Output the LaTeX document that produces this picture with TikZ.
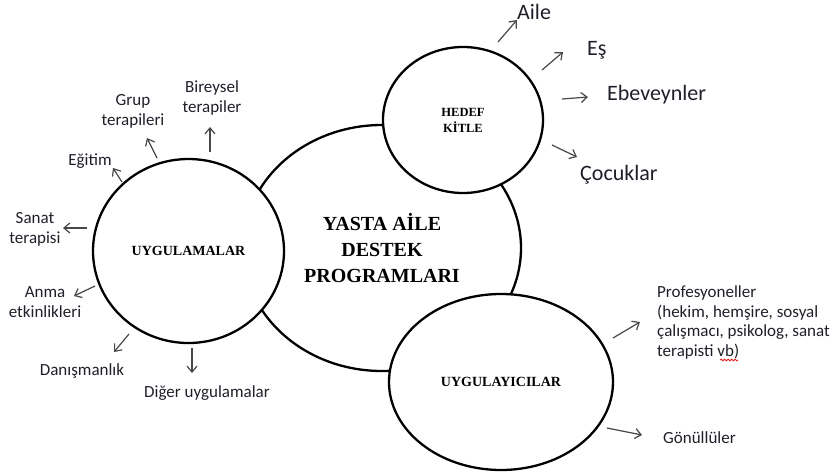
\documentclass[tikz,border=0pt]{standalone}
\usepackage{fontspec}
\setmainfont{Carlito}
\newfontfamily\baslikfont{Liberation Serif}
\usetikzlibrary{shapes.geometric,arrows.meta,decorations.pathmorphing}

\newlength{\du}
\setlength{\du}{1\unitlength}

\definecolor{okrengi}{rgb}{0.280000, 0.280000, 0.280000}
\definecolor{yazirengi}{rgb}{0.120000, 0.120000, 0.160000}
\definecolor{imlarengi}{rgb}{0.900000, 0.100000, 0.100000}

\tikzset{
  halka/.style={ellipse, draw=black, line width=2.3\du, fill=white, inner sep=0pt, align=center},
  ok/.style={-{Straight Barb[length=6pt, width=10pt]}, draw=okrengi, line width=1.2\du},
  etiket/.style={inner sep=0pt, anchor=base, align=center, text=yazirengi,
    font=\fontsize{17}{19.5}\selectfont},
  buyuketiket/.style={inner sep=0pt, anchor=base west, text=yazirengi,
    font=\fontsize{22}{25}\selectfont},
  baslik/.style={font=\baslikfont\bfseries\fontsize{#1}{#1}\selectfont},
}

\begin{document}
\begin{tikzpicture}
\pgftransformxscale{1.000000}
\pgftransformyscale{-1.000000}
\useasboundingbox (0\du,0\du) rectangle (833\du,474\du);

% ana halka ve ustundeki uc halka
\node[halka, minimum width=278\du, minimum height=246\du,
  baslik=20, execute at begin node=\setlength{\baselineskip}{26\du}]
  (merkez) at (382\du,248\du) {YASTA AİLE\\DESTEK\\PROGRAMLARI};
\node[halka, minimum width=191\du, minimum height=184\du, baslik=14]
  (uyg) at (188.5\du,251\du) {UYGULAMALAR};
\node[halka, minimum width=160\du, minimum height=146\du, baslik=12.5,
  execute at begin node=\setlength{\baselineskip}{16\du}]
  (hedef) at (463\du,120\du) {HEDEF\\KİTLE};
\node[halka, minimum width=224\du, minimum height=176\du, baslik=14]
  (uygci) at (501\du,382\du) {UYGULAYICILAR};

% hedef kitle
\node[buyuketiket] (aile) at (517\du,19\du) {Aile};
\node[buyuketiket] (es) at (587\du,55\du) {Eş};
\node[buyuketiket] (ebeveyn) at (607\du,100\du) {Ebeveynler};
\node[buyuketiket] (cocuk) at (580\du,180\du) {Çocuklar};
\coordinate (aileA) at (498\du,42\du);
\coordinate (aileB) at (517\du,20\du);
\coordinate (esA) at (542\du,70\du);
\coordinate (esB) at (563\du,52\du);
\coordinate (ebeveynA) at (562\du,99\du);
\coordinate (ebeveynB) at (588\du,97\du);
\coordinate (cocukA) at (552\du,145\du);
\coordinate (cocukB) at (577\du,157\du);
\draw[ok] (aileA) -- (aileB);
\draw[ok] (esA) -- (esB);
\draw[ok] (ebeveynA) -- (ebeveynB);
\draw[ok] (cocukA) -- (cocukB);

% uygulamalar (base = son satir)
\node[etiket] (bireysel) at (212\du,112\du) {Bireysel\\terapiler};
\node[etiket] (grup) at (133\du,125\du) {Grup\\terapileri};
\node[etiket] (egitim) at (90\du,165\du) {Eğitim};
\node[etiket] (sanat) at (35\du,243\du) {Sanat\\terapisi};
\node[etiket] (anma) at (45\du,317\du) {Anma\\etkinlikleri};
\node[etiket] (danisman) at (82\du,375\du) {Danışmanlık};
\node[etiket] (diger) at (207\du,397\du) {Diğer uygulamalar};
\coordinate (bireyselA) at (210\du,152\du);
\coordinate (bireyselB) at (210\du,127\du);
\coordinate (grupA) at (157\du,158\du);
\coordinate (grupB) at (147\du,138\du);
\coordinate (egitimA) at (122\du,182\du);
\coordinate (egitimB) at (113\du,168\du);
\coordinate (sanatA) at (87\du,228\du);
\coordinate (sanatB) at (63\du,228\du);
\coordinate (anmaA) at (95\du,286\du);
\coordinate (anmaB) at (74\du,296\du);
\coordinate (danismanA) at (129\du,334\du);
\coordinate (danismanB) at (114\du,352\du);
\coordinate (digerA) at (192\du,348\du);
\coordinate (digerB) at (192\du,373\du);
\draw[ok] (bireyselA) -- (bireyselB);
\draw[ok] (grupA) -- (grupB);
\draw[ok] (egitimA) -- (egitimB);
\draw[ok] (sanatA) -- (sanatB);
\draw[ok] (anmaA) -- (anmaB);
\draw[ok] (danismanA) -- (danismanB);
\draw[ok] (digerA) -- (digerB);

% uygulayicilar
\node[etiket, anchor=base west, align=left] (prof) at (657\du,356\du)
  {Profesyoneller\\(hekim, hemşire, sosyal\\çalışmacı, psikolog, sanat\\terapisti vb)};
\node[etiket, anchor=base west] (gonullu) at (663\du,443\du) {Gönüllüler};
\coordinate (profA) at (613\du,338\du);
\coordinate (profB) at (640\du,322\du);
\coordinate (gonulluA) at (607\du,428\du);
\coordinate (gonulluB) at (642\du,435\du);
\draw[ok] (profA) -- (profB);
\draw[ok] (gonulluA) -- (gonulluB);
\coordinate (vbA) at (720\du,360\du);
\coordinate (vbB) at (738\du,360\du);
\draw[imlarengi, line width=0.8pt, decorate,
  decoration={snake, amplitude=0.9pt, segment length=3.5pt}] (vbA) -- (vbB);
\end{tikzpicture}
\end{document}
